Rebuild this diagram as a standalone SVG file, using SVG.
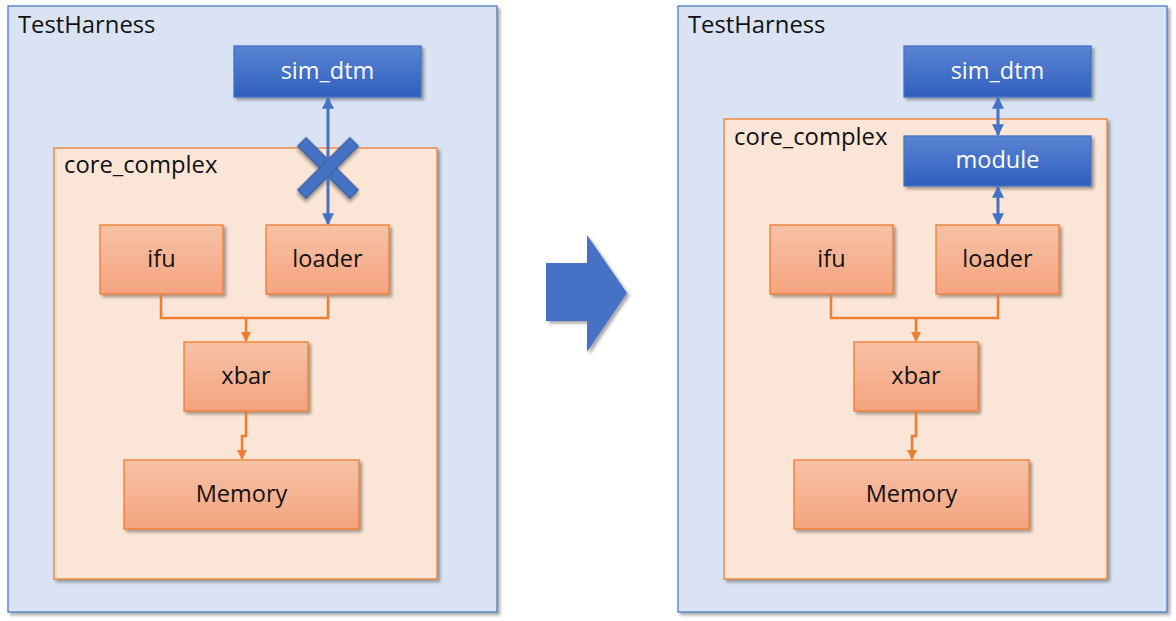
<svg xmlns="http://www.w3.org/2000/svg" width="1176" height="621" viewBox="0 0 1176 621">
<defs>
<linearGradient id="gOr" x1="0" y1="0" x2="0" y2="1">
<stop offset="0" stop-color="#F7C2A7"/>
<stop offset="1" stop-color="#F5A37E"/>
</linearGradient>
<linearGradient id="gBl" x1="0" y1="0" x2="0" y2="1">
<stop offset="0" stop-color="#5B84D3"/>
<stop offset="1" stop-color="#2E5FBD"/>
</linearGradient>
<filter id="sh" x="-10%" y="-10%" width="130%" height="130%">
<feDropShadow dx="2.5" dy="2.5" stdDeviation="1.5" flood-color="#000" flood-opacity="0.35"/>
</filter>
<marker id="aO" viewBox="0 0 10 10" refX="9" refY="5" markerWidth="4" markerHeight="4" markerUnits="strokeWidth" orient="auto">
<path d="M0,0 L10,5 L0,10 z" fill="#ED7D31"/>
</marker>
<marker id="aB" viewBox="0 0 10 10" refX="9" refY="5" markerWidth="4" markerHeight="4" markerUnits="strokeWidth" orient="auto-start-reverse">
<path d="M0,0 L10,5 L0,10 z" fill="#4472C4"/>
</marker>
</defs>
<style>
.th{fill:#DAE3F3;stroke:#4A7CC0;stroke-width:1.3}
.cc{fill:#FBE5D6;stroke:#ED7D31;stroke-width:1.3}
.on{fill:url(#gOr);stroke:#ED7D31;stroke-width:1.3}
.bn{fill:url(#gBl);stroke:#4472C4;stroke-width:1.3}
.t{font-family:"Open Sans","Liberation Sans",sans-serif;font-size:23.8px;fill:#111}
.tc{font-family:"Open Sans","Liberation Sans",sans-serif;font-size:23.5px;fill:#111;text-anchor:middle}
.tw{font-family:"Open Sans","Liberation Sans",sans-serif;font-size:23.5px;fill:#fff;text-anchor:middle}
.oc{fill:none;stroke:#ED7D31;stroke-width:2.5}
.bc{fill:none;stroke:#4472C4;stroke-width:3}
</style>

<!-- LEFT -->
<g id="testharness-left">
<rect class="th" x="8" y="6" width="489" height="606" filter="url(#sh)"/>
<text class="t" x="18" y="33">TestHarness</text>
</g>
<g id="core-complex-left">
<rect class="cc" x="54" y="148" width="383" height="431" filter="url(#sh)"/>
<text class="t" x="64" y="173">core_complex</text>
</g>
<g id="sim-dtm-left">
<rect class="bn" x="234" y="46" width="187" height="51" filter="url(#sh)"/>
<text class="tw" x="327.5" y="79">sim_dtm</text>
</g>
<g id="ifu-left">
<rect class="on" x="100" y="225" width="123" height="69" filter="url(#sh)"/>
<text class="tc" x="161.5" y="267">ifu</text>
</g>
<g id="loader-left">
<rect class="on" x="266" y="225" width="123" height="69" filter="url(#sh)"/>
<text class="tc" x="327.5" y="267">loader</text>
</g>
<g id="xbar-left">
<rect class="on" x="184" y="342" width="124" height="69" filter="url(#sh)"/>
<text class="tc" x="246" y="384">xbar</text>
</g>
<g id="memory-left">
<rect class="on" x="124" y="460" width="235" height="69" filter="url(#sh)"/>
<text class="tc" x="241.5" y="502">Memory</text>
</g>
<g id="cross">
<g transform="translate(328,168) rotate(45)" filter="url(#sh)">
<rect x="-37" y="-6" width="74" height="12" fill="#4472C4" stroke="#2F528F" stroke-width="1"/>
<rect x="-6" y="-37" width="12" height="74" fill="#4472C4" stroke="#2F528F" stroke-width="1"/>
<rect x="-5.5" y="-5.5" width="11" height="11" fill="#4472C4"/>
</g>
</g>

<!-- RIGHT -->
<g id="testharness-right">
<rect class="th" x="678" y="6" width="489" height="606" filter="url(#sh)"/>
<text class="t" x="688" y="33">TestHarness</text>
</g>
<g id="core-complex-right">
<rect class="cc" x="724" y="119" width="383" height="460" filter="url(#sh)"/>
<text class="t" x="734" y="145">core_complex</text>
</g>
<g id="sim-dtm-right">
<rect class="bn" x="904" y="46" width="187" height="51" filter="url(#sh)"/>
<text class="tw" x="997.5" y="79">sim_dtm</text>
</g>
<g id="module-right">
<rect class="bn" x="904" y="136" width="187" height="50" filter="url(#sh)"/>
<text class="tw" x="997.5" y="168">module</text>
</g>
<g id="ifu-right">
<rect class="on" x="770" y="225" width="123" height="69" filter="url(#sh)"/>
<text class="tc" x="831.5" y="267">ifu</text>
</g>
<g id="loader-right">
<rect class="on" x="936" y="225" width="123" height="69" filter="url(#sh)"/>
<text class="tc" x="997.5" y="267">loader</text>
</g>
<g id="xbar-right">
<rect class="on" x="854" y="342" width="124" height="69" filter="url(#sh)"/>
<text class="tc" x="916" y="384">xbar</text>
</g>
<g id="memory-right">
<rect class="on" x="794" y="460" width="235" height="69" filter="url(#sh)"/>
<text class="tc" x="911.5" y="502">Memory</text>
</g>

<g id="big-arrow">
<path d="M546,263 L587,263 L587,235 L627,293 L587,352 L587,321 L546,321 Z" fill="#4472C4" filter="url(#sh)"/>
</g>

<g id="connectors">
<path class="oc" d="M161,294 V318 H328 V294"/>
<path class="oc" d="M246,318 V341" marker-end="url(#aO)"/>
<path class="oc" d="M246,411 V436 H242 V459" marker-end="url(#aO)"/>
<path class="bc" d="M328,224 V98" marker-start="url(#aB)" marker-end="url(#aB)"/>

<path class="oc" d="M831,294 V318 H998 V294"/>
<path class="oc" d="M916,318 V341" marker-end="url(#aO)"/>
<path class="oc" d="M916,411 V436 H912 V459" marker-end="url(#aO)"/>
<path class="bc" d="M998,135 V98" marker-start="url(#aB)" marker-end="url(#aB)"/>
<path class="bc" d="M998,224 V187" marker-start="url(#aB)" marker-end="url(#aB)"/>
</g>
</svg>
